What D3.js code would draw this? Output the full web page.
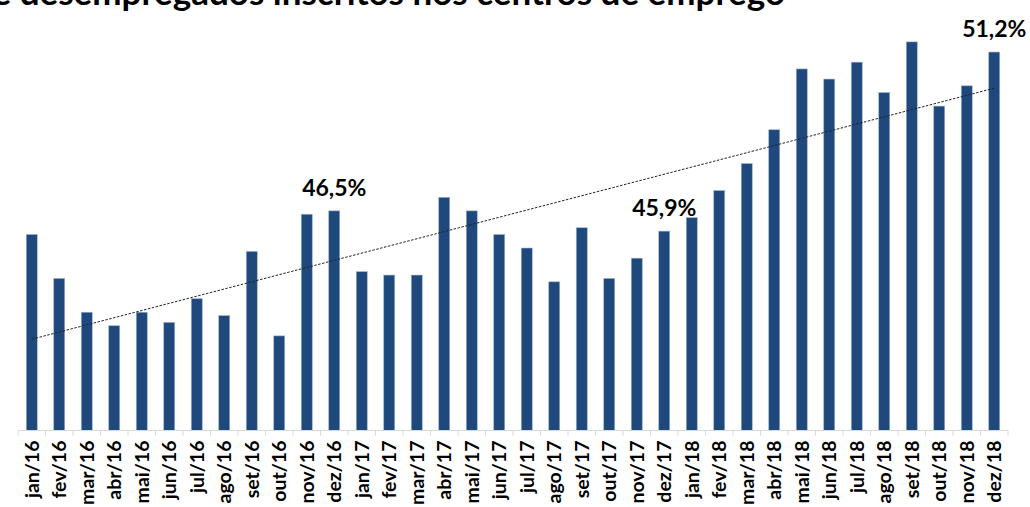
<!DOCTYPE html>
<html>
<head>
<meta charset="utf-8">
<script src="https://cdn.jsdelivr.net/npm/d3@7"></script>
<style>
  body { margin: 0; background: #fff; }
  svg { display: block; }
  text { font-family: Lato, "Open Sans", "DejaVu Sans", sans-serif; font-weight: bold; fill: #000; }
</style>
</head>
<body>
<div id="chart"></div>
<script>
// months jan/16 .. dez/18
var months = ["jan/16","fev/16","mar/16","abr/16","mai/16","jun/16","jul/16","ago/16","set/16","out/16","nov/16","dez/16",
              "jan/17","fev/17","mar/17","abr/17","mai/17","jun/17","jul/17","ago/17","set/17","out/17","nov/17","dez/17",
              "jan/18","fev/18","mar/18","abr/18","mai/18","jun/18","jul/18","ago/18","set/18","out/18","nov/18","dez/18"];

// % of registered unemployed
var values = [45.8, 44.5, 43.5, 43.1, 43.5, 43.2, 43.9, 43.4, 45.3, 42.8, 46.4, 46.5,
              44.7, 44.6, 44.6, 46.9, 46.5, 45.8, 45.4, 44.4, 46.0, 44.5, 45.1, 45.9,
              46.3, 47.1, 47.9, 48.9, 50.7, 50.4, 50.9, 50.0, 51.5, 49.6, 50.2, 51.2];

// only the December values carry a label
var labelled = ["dez/16", "dez/17", "dez/18"];

var titleText = "de desempregados inscritos nos centros de emprego";

var width = 1030, height = 507;
var margin = {top: 25, right: 22, bottom: 77, left: 18};

var svg = d3.select("#chart")
  .append("svg")
    .attr("width", width)
    .attr("height", height);

var data = months.map(function(m, i){ return {month: m, value: values[i]}; });

var x = d3.scaleBand()
  .domain(months)
  .range([margin.left, width - margin.right])
  .paddingInner(0.6)
  .paddingOuter(0.3);

var y = d3.scaleLinear()
  .domain([40, 52])
  .range([height - margin.bottom + 0.5, margin.top]);

// title, cut at the top of the picture
svg.append("text")
  .attr("x", 785)
  .attr("y", 5)
  .attr("text-anchor", "end")
  .attr("font-size", "35px")
  .text(titleText);

// bars
svg.selectAll(".bar")
  .data(data)
  .enter()
  .append("rect")
    .attr("class", "bar")
    .attr("x", function(d){ return x(d.month); })
    .attr("y", function(d){ return y(d.value); })
    .attr("width", x.bandwidth())
    .attr("height", function(d){ return y(40) - y(d.value); })
    .style("fill", "#1f497d")
    .style("stroke", "#9fb4cf")
    .style("stroke-width", 0.6);

// linear trend line (least squares on the bars)
var n = values.length;
var mx = d3.mean(values, function(d, i){ return i; });
var my = d3.mean(values);
var sxy = d3.sum(values, function(d, i){ return (i - mx) * (d - my); });
var sxx = d3.sum(values, function(d, i){ return (i - mx) * (i - mx); });
var slope = sxy / sxx, icpt = my - slope * mx;

svg.append("line")
  .attr("x1", x(months[0]) + x.bandwidth() / 2)
  .attr("y1", y(icpt))
  .attr("x2", x(months[n - 1]) + x.bandwidth() / 2)
  .attr("y2", y(icpt + slope * (n - 1)))
  .style("stroke", "#222")
  .style("stroke-width", 1)
  .style("stroke-dasharray", "2.5,1.5");

// value labels
svg.selectAll(".vlabel")
  .data(data.filter(function(d){ return labelled.indexOf(d.month) >= 0; }))
  .enter()
  .append("text")
    .attr("class", "vlabel")
    .attr("x", function(d){ return x(d.month) + x.bandwidth() / 2; })
    .attr("y", function(d){ return y(d.value) - 15; })
    .attr("text-anchor", "middle")
    .attr("font-size", "23px")
    .text(function(d){ return d.value.toFixed(1).replace(".", ",") + "%"; });

// x axis
var xAxis = svg.append("g")
  .attr("transform", "translate(0," + (height - margin.bottom + 0.5) + ")");

xAxis.append("line")
  .attr("x1", margin.left)
  .attr("x2", width - margin.right)
  .style("stroke", "#d9d9d9")
  .style("stroke-width", 1.2);

var step = x.step();
xAxis.selectAll(".tick")
  .data(d3.range(months.length + 1))
  .enter()
  .append("line")
    .attr("class", "tick")
    .attr("x1", function(i){ return margin.left + i * step; })
    .attr("x2", function(i){ return margin.left + i * step; })
    .attr("y1", 0)
    .attr("y2", 5)
    .style("stroke", "#d9d9d9");

xAxis.selectAll(".mlabel")
  .data(months)
  .enter()
  .append("text")
    .attr("class", "mlabel")
    .attr("transform", function(d){
      return "translate(" + (x(d) + x.bandwidth() / 2) + ",10) rotate(-90)";
    })
    .attr("dy", "0.35em")
    .attr("text-anchor", "end")
    .attr("font-size", "19.5px")
    .text(function(d){ return d; });
</script>
</body>
</html>
